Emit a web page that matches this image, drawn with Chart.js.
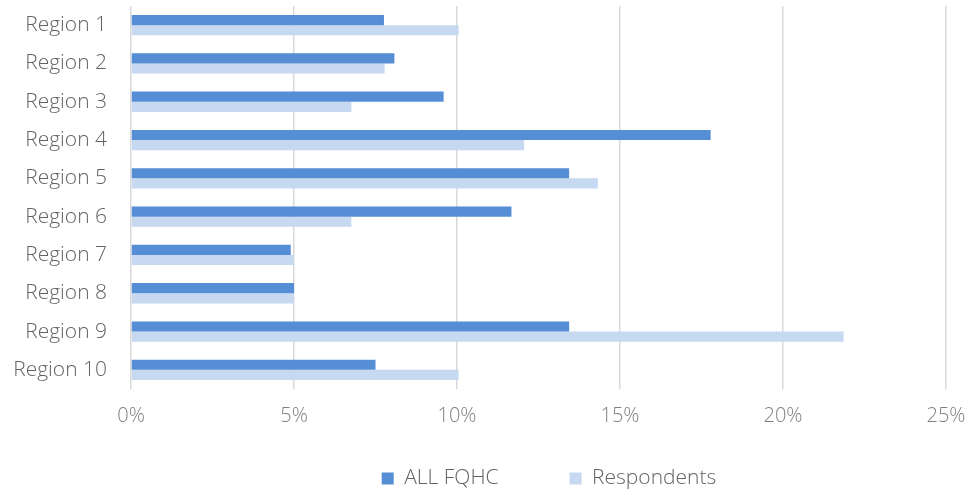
<!DOCTYPE html>
<html>
<head>
<meta charset="utf-8">
<script src="https://cdn.jsdelivr.net/npm/chart.js@4/dist/chart.umd.min.js"></script>
<style>
html,body{margin:0;padding:0;background:#fff;}
#wrap{width:974px;height:493px;position:relative;}
</style>
</head>
<body>
<div id="wrap"><canvas id="c"></canvas></div>
<script>
const categories = ["Region 1","Region 2","Region 3","Region 4","Region 5","Region 6","Region 7","Region 8","Region 9","Region 10"];
const allFqhc = [7.76, 8.08, 9.59, 17.78, 13.44, 11.67, 4.9, 5.0, 13.44, 7.5];
const respondents = [10.05, 7.78, 6.76, 12.06, 14.32, 6.76, 5.0, 5.0, 21.86, 10.05];
const seriesNames = ["ALL FQHC", "Respondents"];
const xTicks = [0, 5, 10, 15, 20, 25];

const FONT = "'Open Sans', Lato, sans-serif";
const LEGEND_GAP = 71;
const legendPlace = {
  id: 'legendPlace',
  beforeLayout(chart) {
    const lg = chart.legend;
    if (lg && !lg._wrapped) {
      const f = lg.fit;
      lg.fit = function () { f.call(this); this.height = 67; };
      lg._wrapped = true;
    }
  },
  afterLayout(chart) {
    const lg = chart.legend;
    if (lg) {
      lg.top = 397;
      lg.bottom = 493;
      lg.height = lg.bottom - lg.top;
      lg.left = 152;
      lg.width = lg.right - lg.left;
    }
  }
};

new Chart(document.getElementById('c'), {
  type: 'bar',
  data: {
    labels: categories,
    datasets: [
      {label: seriesNames[0], data: allFqhc, backgroundColor: '#558ED5', barPercentage: 1, categoryPercentage: 0.53},
      {label: seriesNames[1], data: respondents, backgroundColor: '#C6D9F1', barPercentage: 1, categoryPercentage: 0.53}
    ]
  },
  plugins: [legendPlace],
  options: {
    indexAxis: 'y',
    responsive: true,
    maintainAspectRatio: false,
    animation: false,
    layout: {padding: {left: 0, right: 28, top: 6, bottom: 0}},
    scales: {
      x: {
        min: 0, max: 25,
        afterBuildTicks: s => { s.ticks = xTicks.map(v => ({value: v})); },
        afterFit: s => { s.height = 37; s.paddingLeft = 0; s.paddingRight = 0; },
        ticks: {
          callback: v => v + '%',
          color: '#7f7f7f',
          font: {family: FONT, size: 20, weight: 300},
          padding: 15,
          autoSkip: false,
          maxRotation: 0
        },
        grid: {color: '#d9d9d9', lineWidth: 1.5, drawTicks: false},
        border: {display: false}
      },
      y: {
        afterFit: s => { s.width = 131; s.paddingTop = 0; s.paddingBottom = 0; },
        ticks: {
          color: '#636363',
          font: {family: FONT, size: 21, weight: 300},
          padding: 24
        },
        grid: {display: false, drawTicks: false},
        border: {display: false}
      }
    },
    plugins: {
      legend: {
        position: 'bottom',
        labels: {
          boxWidth: 12, boxHeight: 12,
          padding: LEGEND_GAP,
          color: '#636363',
          font: {family: FONT, size: 21, weight: 300}
        }
      },
      tooltip: {enabled: false}
    }
  }
});
</script>
</body>
</html>
